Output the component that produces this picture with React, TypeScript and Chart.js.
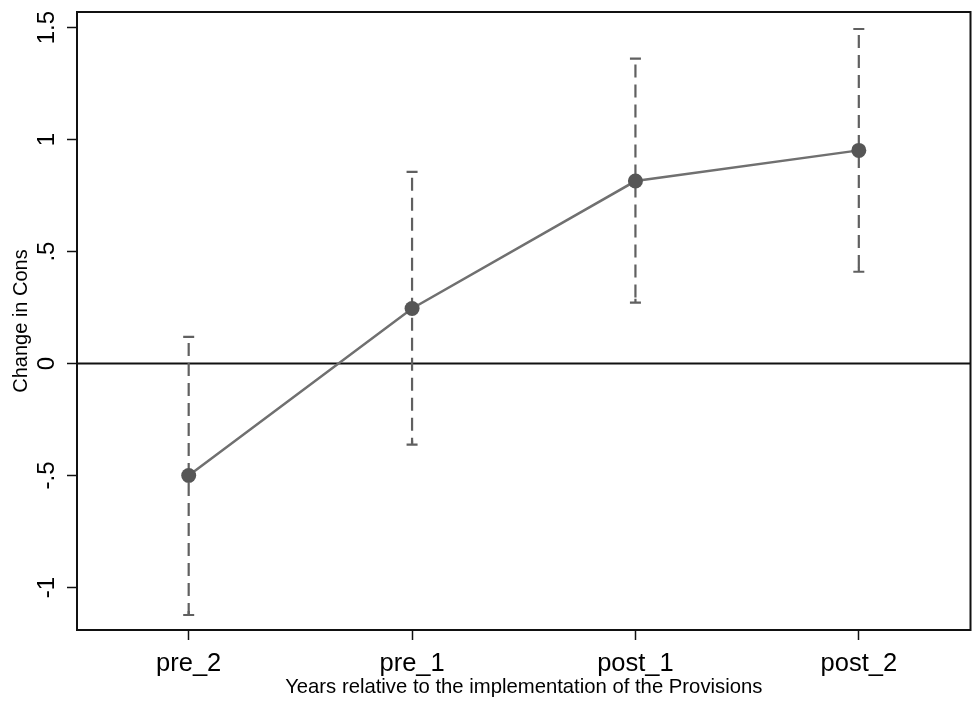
import React, { useEffect, useRef } from "react";
import { Chart, registerables } from "chart.js";

Chart.register(...registerables);

const categories = ["pre_2", "pre_1", "post_1", "post_2"];
const estimates = [-0.5, 0.246, 0.815, 0.952];
const ciLower = [-1.123, -0.362, 0.272, 0.41];
const ciUpper = [0.119, 0.856, 1.362, 1.494];
const yTickValues = [-1, -0.5, 0, 0.5, 1, 1.5];
const yTickLabels = ["-1", "-.5", "0", ".5", "1", "1.5"];
const yTitle = "Change in Cons";
const xTitle = "Years relative to the implementation of the Provisions";

const FONT = "'Liberation Sans', Arial, sans-serif";

const decorPlugin = {
  id: "decor",
  beforeDatasetsDraw(chart: any) {
    const { ctx, chartArea, scales } = chart;
    const xs = scales.x;
    const ys = scales.y;
    ctx.save();
    // zero line
    const y0 = ys.getPixelForValue(0);
    ctx.strokeStyle = "#111";
    ctx.lineWidth = 2;
    ctx.beginPath();
    ctx.moveTo(chartArea.left, y0);
    ctx.lineTo(chartArea.right, y0);
    ctx.stroke();
    // error bars
    ctx.strokeStyle = "#606060";
    ctx.lineWidth = 2.2;
    for (let i = 0; i < categories.length; i++) {
      const px = xs.getPixelForValue(i);
      const yl = ys.getPixelForValue(ciLower[i]);
      const yu = ys.getPixelForValue(ciUpper[i]);
      ctx.setLineDash([13, 7]);
      ctx.beginPath();
      ctx.moveTo(px, yu + 6);
      ctx.lineTo(px, yl);
      ctx.stroke();
      ctx.setLineDash([]);
      ctx.beginPath();
      ctx.moveTo(px - 5.5, yu);
      ctx.lineTo(px + 5.5, yu);
      ctx.moveTo(px - 5.5, yl);
      ctx.lineTo(px + 5.5, yl);
      ctx.moveTo(px, yl);
      ctx.lineTo(px, yl - 4);
      ctx.stroke();
    }
    ctx.restore();
  },
  afterDraw(chart: any) {
    const { ctx, chartArea, scales } = chart;
    const ys = scales.y;
    ctx.save();
    // frame
    ctx.strokeStyle = "#111";
    ctx.lineWidth = 2;
    ctx.strokeRect(chartArea.left, chartArea.top, chartArea.right - chartArea.left, chartArea.bottom - chartArea.top);
    // y tick labels rotated
    ctx.fillStyle = "#000";
    ctx.font = `24px ${FONT}`;
    ctx.textAlign = "center";
    ctx.textBaseline = "alphabetic";
    for (let i = 0; i < yTickValues.length; i++) {
      const py = ys.getPixelForValue(yTickValues[i]);
      ctx.save();
      ctx.translate(54, py);
      ctx.rotate(-Math.PI / 2);
      ctx.fillText(yTickLabels[i], 0, 0);
      ctx.restore();
    }
    ctx.restore();
  },
};

export default function App() {
  const ref = useRef<HTMLCanvasElement | null>(null);
  useEffect(() => {
    document.body.style.margin = "0";
    const canvas = ref.current!;
    const chart = new Chart(canvas, {
      type: "line",
      data: {
        datasets: [
          {
            data: estimates.map((v, i) => ({ x: i, y: v })),
            borderColor: "#707070",
            borderWidth: 2.5,
            pointRadius: 7.5,
            pointBackgroundColor: "#565656",
            pointBorderWidth: 0,
            pointHoverRadius: 7.5,
            tension: 0,
          },
        ],
      },
      options: {
        animation: false,
        responsive: false,
        devicePixelRatio: 1,
        layout: { padding: { top: 12, right: 3, left: 0, bottom: 0 } },
        plugins: { legend: { display: false }, tooltip: { enabled: false } },
        events: [],
        scales: {
          x: {
            type: "linear",
            min: -0.5,
            max: 3.5,
            afterBuildTicks: (s: any) => {
              s.ticks = categories.map((_, i) => ({ value: i }));
            },
            afterFit: (s: any) => {
              s.height = 71;
            },
            ticks: {
              callback: (v: any) => categories[v] ?? "",
              color: "#000",
              font: { family: FONT, size: 25.5 },
              padding: 9,
              maxRotation: 0,
              autoSkip: false,
            },
            grid: {
              drawOnChartArea: false,
              drawTicks: true,
              tickLength: 10,
              tickColor: "#111",
              tickWidth: 1.5,
            },
            border: { display: true, color: "#111", width: 2 },
            title: {
              display: true,
              text: xTitle,
              color: "#000",
              font: { family: FONT, size: 20.3 },
              padding: { top: 0, bottom: 1 },
            },
          },
          y: {
            type: "linear",
            min: -1.19,
            max: 1.57,
            afterBuildTicks: (s: any) => {
              s.ticks = yTickValues.map((v) => ({ value: v }));
            },
            afterFit: (s: any) => {
              s.width = 77;
            },
            ticks: { display: false },
            grid: {
              drawOnChartArea: false,
              drawTicks: true,
              tickLength: 10,
              tickColor: "#111",
              tickWidth: 1.5,
            },
            border: { display: true, color: "#111", width: 2 },
            title: {
              display: true,
              text: yTitle,
              color: "#000",
              font: { family: FONT, size: 20 },
              padding: { top: 9, bottom: 0 },
            },
          },
        },
      },
      plugins: [decorPlugin],
    } as any);
    return () => chart.destroy();
  }, []);
  return (
    <div style={{ width: 978, height: 701, background: "#fff" }}>
      <canvas ref={ref} width={978} height={701} style={{ display: "block" }} />
    </div>
  );
}
